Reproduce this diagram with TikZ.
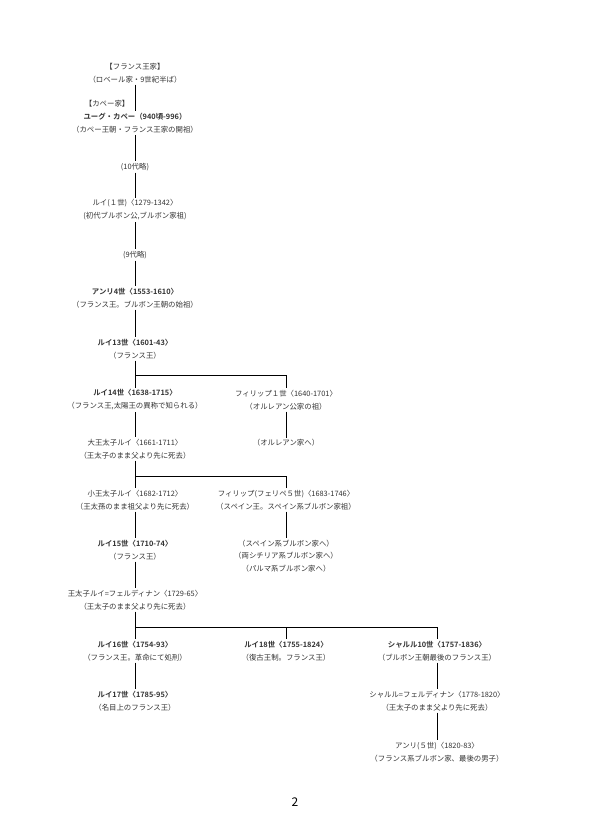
\documentclass[tikz,border=0pt]{standalone}
\usepackage{fontspec}
\setmainfont{Noto Sans CJK JP}[BoldFont={Noto Sans CJK JP Bold}]
\usetikzlibrary{positioning}

\begin{document}
\begin{tikzpicture}[x=1pt, y=-1pt,
  person/.style={fill=white, align=center, inner sep=1.5pt, text=black!80,
    font=\fontsize{7.4}{13}\selectfont},
  note/.style={fill=white, inner sep=1.5pt, text=black!80, font=\fontsize{7.4}{13}\selectfont},
  link/.style={line width=1pt}
]
  \useasboundingbox (0,0) rectangle (591,834);

  % main line of descent
  \node[person] (royal)   at (135,73)  {【フランス王家】\\（ロベール家・9世紀半ば）};
  \node[note, anchor=east] (capet) at (131,104) {【カペー家】};
  \node[person] (hugues)  at (135,123) {\textbf{ユーグ・カペー（940頃-996）}\\（カペー王朝・フランス王家の開祖）};
  \node[note]   (skip10)  at (135,167) {(10代略)};
  \node[person] (louis1)  at (135,210) {ルイ(１世)〈1279-1342〉\\(初代ブルボン公,ブルボン家祖)};
  \node[note]   (skip9)   at (135,255) {(9代略)};
  \node[person] (henri4)  at (135,298) {\textbf{アンリ4世〈1553-1610〉}\\（フランス王。ブルボン王朝の始祖）};
  \node[person] (louis13) at (135,349) {\textbf{ルイ13世〈1601-43〉}\\（フランス王）};
  \node[person] (louis14) at (135,400) {\textbf{ルイ14世〈1638-1715〉}\\（フランス王,太陽王の異称で知られる）};
  \node[person] (dauphin) at (135,449) {大王太子ルイ〈1661-1711〉\\（王太子のまま父より先に死去）};
  \node[person] (petit)   at (135,500) {小王太子ルイ〈1682-1712〉\\（王太孫のまま祖父より先に死去）};
  \node[person] (louis15) at (135,550) {\textbf{ルイ15世〈1710-74〉}\\（フランス王）};
  \node[person] (ferdin)  at (135,600) {王太子ルイ=フェルディナン〈1729-65〉\\（王太子のまま父より先に死去）};
  \node[person] (louis16) at (135,651) {\textbf{ルイ16世〈1754-93〉}\\（フランス王。革命にて処刑）};
  \node[person] (louis17) at (135,701) {\textbf{ルイ17世〈1785-95〉}\\（名目上のフランス王）};

  % side branches
  \node[person] (phil1)   at (286,400) {フィリップ１世〈1640-1701〉\\（オルレアン公家の祖）};
  \node[note]   (orleans) at (286,443) {（オルレアン家へ）};
  \node[person] (phil5)   at (286,500) {フィリップ(フェリペ５世)〈1683-1746〉\\（スペイン王。スペイン系ブルボン家祖）};
  \node[person, font=\fontsize{7.4}{12.5}\selectfont] (spain) at (286,556)
    {（スペイン系ブルボン家へ）\\（両シチリア系ブルボン家へ）\\（パルマ系ブルボン家へ）};
  \node[person] (louis18) at (286,651) {\textbf{ルイ18世〈1755-1824〉}\\（復古王制。フランス王）};
  \node[person] (charles) at (437,651) {\textbf{シャルル10世〈1757-1836〉}\\（ブルボン王朝最後のフランス王）};
  \node[person] (berry)   at (437,701) {シャルル=フェルディナン〈1778-1820〉\\（王太子のまま父より先に死去）};
  \node[person] (henri5)  at (437,752) {アンリ(５世)〈1820-83〉\\（フランス系ブルボン家、最後の男子）};

  \node[font=\fontsize{12}{14}\selectfont] (page) at (295,802) {2};

  \coordinate (fork1) at (135,375);
  \coordinate (fork2) at (135,476);
  \coordinate (fork3) at (135,627);

  \draw[link] (royal) -- (hugues) -- (skip10) -- (louis1) -- (skip9) -- (henri4)
    -- (louis13) -- (louis14) -- (dauphin) -- (petit) -- (louis15) -- (ferdin)
    -- (louis16) -- (louis17);
  \draw[link] (fork1) -| (phil1);
  \draw[link] (phil1) -- (orleans);
  \draw[link] (fork2) -| (phil5);
  \draw[link] (phil5) -- (spain);
  \draw[link] (fork3) -| (louis18);
  \draw[link] (fork3) -| (charles);
  \draw[link] (charles) -- (berry) -- (henri5);
\end{tikzpicture}
\end{document}
